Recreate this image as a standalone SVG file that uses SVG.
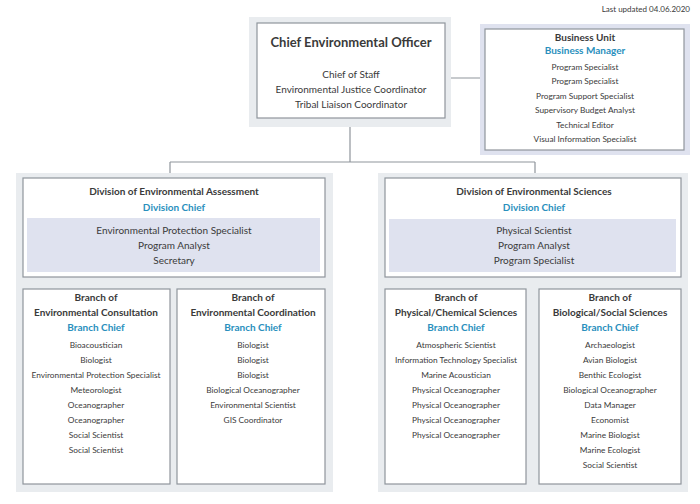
<svg xmlns="http://www.w3.org/2000/svg" width="700" height="504" viewBox="0 0 700 504">
<style>
text{font-family:Lato,"Open Sans",sans-serif;fill:#3a3a3a;text-anchor:middle}
.outer{fill:#e9ecef}
.bu{fill:#dfe2ef}
.box{fill:#fff;stroke:#8f959c;stroke-width:1.2}
.shade{fill:#dfe2ef}
.t{font-size:13px;font-weight:bold}
.h{font-size:10px;font-weight:bold}
.c{font-size:10px;font-weight:bold;fill:#2a8fbd}
.m{font-size:10px}
.s{font-size:8.3px}
.ln{fill:none;stroke:#8f959c;stroke-width:1.2}
</style>
<text x="690" y="12" style="font-size:8px;text-anchor:end">Last updated 04.06.2020</text>
<g id="connectors">
<path class="ln" d="M445 78H485M350 127V162M170 162H535M170 162V173M535 162V173M170 277V283M90 283H250M90 283V289M250 283V289M535 277V283M456 283H615M456 283V289M615 283V289"/>
</g>
<g id="ceo">
<rect class="outer" x="249" y="17" width="202" height="110"/>
<rect class="box" x="257" y="23" width="188" height="95"/>
<text class="t" x="351" y="47">Chief Environmental Officer</text>
<text class="m" x="351" y="78">Chief of Staff</text>
<text class="m" x="351" y="93">Environmental Justice Coordinator</text>
<text class="m" x="351" y="108">Tribal Liaison Coordinator</text>
</g>
<g id="business">
<rect class="bu" x="480" y="24" width="210" height="131"/>
<rect class="box" x="485" y="29" width="199" height="121"/>
<text class="h" x="585" y="41">Business Unit</text>
<text class="c" x="585" y="54">Business Manager</text>
<text class="s" x="585" y="70">Program Specialist</text>
<text class="s" x="585" y="84">Program Specialist</text>
<text class="s" x="585" y="99">Program Support Specialist</text>
<text class="s" x="585" y="113">Supervisory Budget Analyst</text>
<text class="s" x="585" y="128">Technical Editor</text>
<text class="s" x="585" y="142">Visual Information Specialist</text>
</g>
<g id="div-ea">
<rect class="outer" x="16" y="173" width="317" height="319"/>
<rect class="box" x="23" y="178" width="302" height="99"/>
<rect class="shade" x="27" y="218" width="293" height="54"/>
<text class="h" x="174" y="195">Division of Environmental Assessment</text>
<text class="c" x="174" y="211">Division Chief</text>
<text class="m" x="174" y="234">Environmental Protection Specialist</text>
<text class="m" x="174" y="249">Program Analyst</text>
<text class="m" x="174" y="264">Secretary</text>
</g>
<g id="branch-ec">
<rect class="box" x="23" y="289" width="147" height="195"/>
<text class="h" x="96" y="301">Branch of</text>
<text class="h" x="96" y="316">Environmental Consultation</text>
<text class="c" x="96" y="331">Branch Chief</text>
<text class="s" x="96" y="348">Bioacoustician</text>
<text class="s" x="96" y="363">Biologist</text>
<text class="s" x="96" y="378">Environmental Protection Specialist</text>
<text class="s" x="96" y="393">Meteorologist</text>
<text class="s" x="96" y="408">Oceanographer</text>
<text class="s" x="96" y="423">Oceanographer</text>
<text class="s" x="96" y="438">Social Scientist</text>
<text class="s" x="96" y="453">Social Scientist</text>
</g>
<g id="branch-eco">
<rect class="box" x="177" y="289" width="148" height="195"/>
<text class="h" x="253" y="301">Branch of</text>
<text class="h" x="253" y="316">Environmental Coordination</text>
<text class="c" x="253" y="331">Branch Chief</text>
<text class="s" x="253" y="348">Biologist</text>
<text class="s" x="253" y="363">Biologist</text>
<text class="s" x="253" y="378">Biologist</text>
<text class="s" x="253" y="393">Biological Oceanographer</text>
<text class="s" x="253" y="408">Environmental Scientist</text>
<text class="s" x="253" y="423">GIS Coordinator</text>
</g>
<g id="div-es">
<rect class="outer" x="378" y="173" width="310" height="319"/>
<rect class="box" x="385" y="178" width="296" height="99"/>
<rect class="shade" x="389" y="219" width="287" height="53"/>
<text class="h" x="534" y="195">Division of Environmental Sciences</text>
<text class="c" x="534" y="211">Division Chief</text>
<text class="m" x="534" y="234">Physical Scientist</text>
<text class="m" x="534" y="249">Program Analyst</text>
<text class="m" x="534" y="264">Program Specialist</text>
</g>
<g id="branch-pcs">
<rect class="box" x="385" y="289" width="141" height="195"/>
<text class="h" x="456" y="301">Branch of</text>
<text class="h" x="456" y="316">Physical/Chemical Sciences</text>
<text class="c" x="456" y="331">Branch Chief</text>
<text class="s" x="456" y="348">Atmospheric Scientist</text>
<text class="s" x="456" y="363">Information Technology Specialist</text>
<text class="s" x="456" y="378">Marine Acoustician</text>
<text class="s" x="456" y="393">Physical Oceanographer</text>
<text class="s" x="456" y="408">Physical Oceanographer</text>
<text class="s" x="456" y="423">Physical Oceanographer</text>
<text class="s" x="456" y="438">Physical Oceanographer</text>
</g>
<g id="branch-bss">
<rect class="box" x="539" y="289" width="142" height="195"/>
<text class="h" x="610" y="301">Branch of</text>
<text class="h" x="610" y="316">Biological/Social Sciences</text>
<text class="c" x="610" y="331">Branch Chief</text>
<text class="s" x="610" y="348">Archaeologist</text>
<text class="s" x="610" y="363">Avian Biologist</text>
<text class="s" x="610" y="378">Benthic Ecologist</text>
<text class="s" x="610" y="393">Biological Oceanographer</text>
<text class="s" x="610" y="408">Data Manager</text>
<text class="s" x="610" y="423">Economist</text>
<text class="s" x="610" y="438">Marine Biologist</text>
<text class="s" x="610" y="453">Marine Ecologist</text>
<text class="s" x="610" y="468">Social Scientist</text>
</g>
</svg>
